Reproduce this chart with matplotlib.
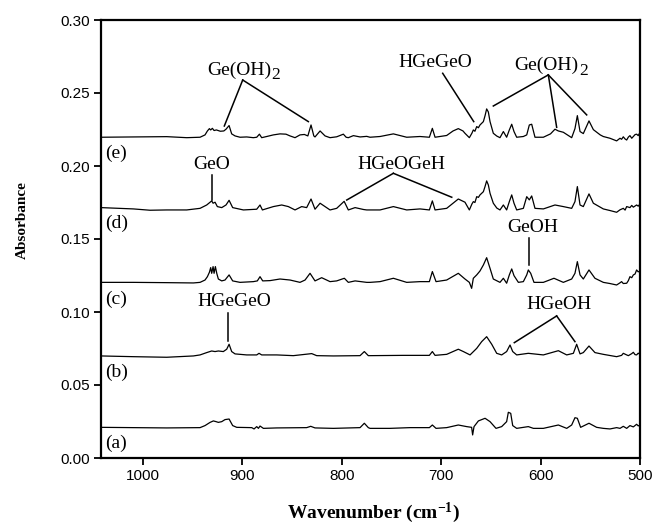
import matplotlib
matplotlib.use('Agg')
import matplotlib.pyplot as plt

plt.rcParams['font.family'] = ['Liberation Sans', 'DejaVu Sans']
plt.rcParams['mathtext.fontset'] = 'custom'
plt.rcParams['mathtext.rm'] = 'Liberation Serif'
plt.rcParams['mathtext.it'] = 'Liberation Serif:italic'
plt.rcParams['mathtext.bf'] = 'Liberation Serif:bold'

# ---------------- data (wavenumber cm-1, absorbance) ----------------
trace_e = [
    (1042.0, 0.2197), (1009.4, 0.2199), (975.9, 0.2201), (955.8, 0.2194), (942.4, 0.2197),
    (937.4, 0.2213), (935.0, 0.2240), (933.0, 0.2256), (931.7, 0.2247), (930.0, 0.2258),
    (928.3, 0.2243), (926.0, 0.2247), (922.0, 0.2238), (918.5, 0.2240), (916.3, 0.2252),
    (913.2, 0.2277), (910.6, 0.2220), (907.2, 0.2206), (902.2, 0.2197), (895.5, 0.2199),
    (888.8, 0.2194), (885.4, 0.2197), (882.7, 0.2218), (880.4, 0.2194), (875.4, 0.2202),
    (868.7, 0.2213), (862.0, 0.2220), (856.0, 0.2218), (851.9, 0.2206), (846.9, 0.2194),
    (841.9, 0.2213), (837.5, 0.2216), (834.0, 0.2206), (830.8, 0.2281), (828.0, 0.2206),
    (826.8, 0.2199), (821.7, 0.2240), (816.7, 0.2206), (811.7, 0.2194), (805.0, 0.2200),
    (798.3, 0.2218), (795.5, 0.2197), (793.3, 0.2194), (788.2, 0.2208), (781.5, 0.2199),
    (774.8, 0.2203), (771.5, 0.2197), (761.4, 0.2202), (748.0, 0.2220), (741.0, 0.2208),
    (734.6, 0.2197), (721.2, 0.2202), (711.8, 0.2197), (708.8, 0.2258), (706.1, 0.2197),
    (694.4, 0.2209), (688.0, 0.2240), (682.7, 0.2256), (678.0, 0.2240), (676.0, 0.2224),
    (671.6, 0.2194), (669.0, 0.2225), (667.6, 0.2247), (666.0, 0.2238), (664.2, 0.2270),
    (662.5, 0.2262), (660.9, 0.2281), (657.5, 0.2304), (655.8, 0.2345), (654.2, 0.2391),
    (652.5, 0.2370), (650.8, 0.2304), (647.5, 0.2224), (644.0, 0.2205), (640.8, 0.2194),
    (637.4, 0.2236), (634.1, 0.2197), (631.4, 0.2247), (629.0, 0.2286), (626.7, 0.2236),
    (624.0, 0.2197), (617.3, 0.2202), (613.9, 0.2213), (611.3, 0.2281), (608.9, 0.2286),
    (605.6, 0.2197), (597.2, 0.2197), (590.0, 0.2220), (585.5, 0.2252), (582.1, 0.2240),
    (577.1, 0.2231), (568.7, 0.2194), (565.4, 0.2256), (563.0, 0.2345), (560.3, 0.2236),
    (557.0, 0.2222), (551.3, 0.2309), (546.9, 0.2249), (540.0, 0.2213), (536.9, 0.2202),
    (530.2, 0.2190), (523.5, 0.2172), (520.1, 0.2190), (518.5, 0.2183), (516.8, 0.2200),
    (515.0, 0.2185), (513.4, 0.2178), (511.7, 0.2198), (510.1, 0.2208), (508.3, 0.2190),
    (506.7, 0.2202), (505.0, 0.2215), (503.4, 0.2218), (501.8, 0.2208), (500.7, 0.2222),
    (500.0, 0.2220),
]

trace_d = [
    (1042.0, 0.1715), (1009.4, 0.1706), (992.7, 0.1697), (975.9, 0.1699), (955.8, 0.1699),
    (942.4, 0.1710), (935.7, 0.1733), (932.3, 0.1752), (930.7, 0.1761), (929.3, 0.1745),
    (927.3, 0.1752), (925.0, 0.1722), (920.6, 0.1715), (916.3, 0.1733), (913.2, 0.1765),
    (909.6, 0.1715), (898.8, 0.1699), (885.4, 0.1704), (882.1, 0.1733), (879.7, 0.1699),
    (868.7, 0.1722), (860.3, 0.1733), (853.6, 0.1722), (846.9, 0.1699), (840.2, 0.1722),
    (835.2, 0.1715), (830.8, 0.1774), (826.8, 0.1704), (821.7, 0.1745), (811.7, 0.1699),
    (805.0, 0.1710), (797.5, 0.1758), (793.3, 0.1699), (786.5, 0.1715), (778.0, 0.1702),
    (774.8, 0.1699), (771.5, 0.1699), (761.4, 0.1699), (748.0, 0.1722), (734.6, 0.1699),
    (721.2, 0.1706), (711.8, 0.1699), (708.8, 0.1761), (706.1, 0.1699), (694.4, 0.1710),
    (682.7, 0.1774), (676.0, 0.1752), (671.6, 0.1699), (669.0, 0.1740), (667.6, 0.1756),
    (666.0, 0.1750), (664.2, 0.1790), (662.5, 0.1785), (660.9, 0.1802), (657.5, 0.1824),
    (655.8, 0.1860), (654.2, 0.1898), (652.5, 0.1870), (650.8, 0.1813), (647.5, 0.1745),
    (644.0, 0.1712), (640.8, 0.1699), (637.4, 0.1733), (634.1, 0.1699), (631.4, 0.1756),
    (629.0, 0.1802), (626.7, 0.1745), (624.0, 0.1699), (617.3, 0.1710), (613.9, 0.1790),
    (611.3, 0.1768), (608.9, 0.1795), (605.6, 0.1710), (597.2, 0.1706), (585.5, 0.1733),
    (577.1, 0.1722), (568.7, 0.1710), (565.4, 0.1756), (563.0, 0.1859), (560.3, 0.1733),
    (557.0, 0.1722), (551.3, 0.1809), (546.9, 0.1745), (536.9, 0.1706), (530.2, 0.1695),
    (523.5, 0.1683), (520.1, 0.1700), (516.8, 0.1710), (515.0, 0.1698), (513.4, 0.1722),
    (510.1, 0.1715), (508.3, 0.1730), (506.7, 0.1718), (503.4, 0.1733), (501.8, 0.1725),
    (500.0, 0.1740),
]

trace_c = [
    (1042.0, 0.1203), (1009.4, 0.1203), (975.9, 0.1201), (949.1, 0.1199), (942.4, 0.1203),
    (937.4, 0.1219), (935.0, 0.1242), (933.0, 0.1272), (931.7, 0.1304), (930.7, 0.1265),
    (929.3, 0.1311), (928.3, 0.1265), (927.0, 0.1311), (925.6, 0.1265), (924.0, 0.1226),
    (920.6, 0.1213), (917.3, 0.1219), (913.2, 0.1254), (909.6, 0.1213), (902.2, 0.1203),
    (888.8, 0.1208), (884.8, 0.1213), (882.1, 0.1242), (879.4, 0.1213), (872.0, 0.1215),
    (862.0, 0.1226), (851.9, 0.1219), (841.9, 0.1203), (836.8, 0.1219), (831.8, 0.1265),
    (826.8, 0.1213), (820.1, 0.1235), (811.7, 0.1208), (805.0, 0.1213), (797.3, 0.1231),
    (793.3, 0.1203), (786.5, 0.1213), (774.8, 0.1203), (771.5, 0.1203), (761.4, 0.1208),
    (748.0, 0.1231), (734.6, 0.1203), (721.2, 0.1208), (711.8, 0.1208), (708.8, 0.1277),
    (705.1, 0.1208), (694.4, 0.1219), (682.7, 0.1265), (676.0, 0.1226), (671.6, 0.1203),
    (669.3, 0.1162), (667.6, 0.1231), (664.2, 0.1254), (660.9, 0.1281), (657.5, 0.1322),
    (654.2, 0.1372), (650.8, 0.1299), (647.5, 0.1226), (640.8, 0.1203), (637.4, 0.1231),
    (634.1, 0.1197), (631.4, 0.1254), (629.0, 0.1295), (626.7, 0.1249), (622.3, 0.1203),
    (617.3, 0.1208), (613.9, 0.1254), (612.3, 0.1288), (609.9, 0.1265), (606.6, 0.1203),
    (597.2, 0.1203), (586.5, 0.1231), (577.1, 0.1203), (568.7, 0.1226), (565.4, 0.1265),
    (563.0, 0.1345), (560.3, 0.1254), (557.0, 0.1226), (551.3, 0.1288), (545.3, 0.1231),
    (536.9, 0.1203), (530.2, 0.1195), (523.5, 0.1185), (520.1, 0.1200), (518.5, 0.1208),
    (516.8, 0.1195), (513.4, 0.1197), (511.7, 0.1215), (510.1, 0.1242), (508.3, 0.1235),
    (506.7, 0.1254), (505.0, 0.1260), (503.4, 0.1288), (501.8, 0.1275), (500.0, 0.1281),
]

trace_b = [
    (1042.0, 0.0699), (1009.4, 0.0694), (975.9, 0.0690), (949.1, 0.0699), (942.4, 0.0706),
    (935.7, 0.0722), (930.7, 0.0733), (927.3, 0.0729), (924.0, 0.0733), (919.0, 0.0729),
    (915.6, 0.0745), (913.2, 0.0779), (910.6, 0.0729), (907.2, 0.0713), (895.5, 0.0706),
    (885.4, 0.0706), (883.1, 0.0717), (880.4, 0.0706), (865.3, 0.0706), (848.6, 0.0701),
    (830.1, 0.0715), (825.1, 0.0701), (808.3, 0.0699), (781.5, 0.0701), (777.2, 0.0729),
    (773.2, 0.0701), (771.5, 0.0701), (738.0, 0.0703), (711.8, 0.0703), (708.8, 0.0729),
    (706.1, 0.0703), (694.4, 0.0710), (682.7, 0.0745), (677.6, 0.0729), (670.9, 0.0706),
    (664.2, 0.0751), (659.2, 0.0797), (654.2, 0.0831), (649.1, 0.0779), (644.1, 0.0717),
    (639.1, 0.0706), (634.1, 0.0729), (630.7, 0.0774), (628.0, 0.0729), (624.0, 0.0706),
    (612.3, 0.0717), (597.2, 0.0706), (582.1, 0.0735), (573.7, 0.0706), (567.0, 0.0717),
    (563.7, 0.0779), (560.3, 0.0713), (557.0, 0.0722), (551.3, 0.0767), (545.3, 0.0722),
    (536.9, 0.0710), (523.5, 0.0694), (518.5, 0.0703), (516.8, 0.0717), (513.4, 0.0706),
    (511.7, 0.0701), (508.3, 0.0715), (506.7, 0.0724), (505.0, 0.0708), (503.4, 0.0706),
    (501.8, 0.0718), (500.0, 0.0710),
]

trace_a = [
    (1042.0, 0.0210), (1009.4, 0.0208), (975.9, 0.0206), (942.4, 0.0208), (937.4, 0.0222),
    (932.3, 0.0244), (929.0, 0.0254), (926.3, 0.0249), (924.0, 0.0244), (920.6, 0.0249),
    (917.3, 0.0263), (913.2, 0.0267), (909.6, 0.0222), (905.5, 0.0210), (890.4, 0.0208),
    (888.1, 0.0199), (885.4, 0.0215), (883.7, 0.0203), (882.1, 0.0219), (878.7, 0.0203),
    (865.3, 0.0206), (835.2, 0.0208), (831.1, 0.0217), (826.8, 0.0206), (808.3, 0.0203),
    (781.5, 0.0208), (777.2, 0.0238), (773.2, 0.0208), (771.5, 0.0203), (751.4, 0.0203),
    (731.3, 0.0208), (711.8, 0.0208), (708.8, 0.0226), (705.1, 0.0203), (694.4, 0.0208),
    (682.7, 0.0226), (674.3, 0.0215), (669.3, 0.0210), (668.3, 0.0158), (666.9, 0.0215),
    (662.5, 0.0254), (655.8, 0.0272), (650.8, 0.0249), (644.8, 0.0203), (639.1, 0.0215),
    (634.1, 0.0249), (632.4, 0.0313), (630.0, 0.0306), (628.0, 0.0222), (624.0, 0.0203),
    (612.3, 0.0215), (607.2, 0.0203), (597.2, 0.0203), (582.1, 0.0226), (573.7, 0.0203),
    (568.7, 0.0226), (565.4, 0.0276), (563.0, 0.0272), (559.7, 0.0210), (551.3, 0.0238),
    (543.6, 0.0210), (536.9, 0.0203), (530.2, 0.0199), (523.5, 0.0208), (520.1, 0.0203),
    (516.8, 0.0217), (513.4, 0.0203), (510.1, 0.0222), (506.7, 0.0213), (503.4, 0.0231),
    (501.8, 0.0220), (500.0, 0.0226),
]

traces = [trace_a, trace_b, trace_c, trace_d, trace_e]
trace_labels = ["(a)", "(b)", "(c)", "(d)", "(e)"]
trace_label_y = [0.010, 0.059, 0.109, 0.161, 0.209]
trace_label_x = 1037.5

x_ticks = [1000, 900, 800, 700, 600, 500]
y_ticks = [0.00, 0.05, 0.10, 0.15, 0.20, 0.25, 0.30]

# annotations: main text, subscript, text anchor (wn, abs), apex of lines, line targets
ann_texts = ["Ge(OH)", "GeO", "HGeOGeH", "HGeGeO", "Ge(OH)", "GeOH", "HGeGeO", "HGeOH"]
ann_subs = ["2", None, None, None, "2", None, None, None]
ann_text_pos = [(871.0, 0.2658), (930.6, 0.2007), (740.3, 0.2007), (706.1, 0.2706),
                (562.1, 0.2692), (607.6, 0.1580), (908.2, 0.1071), (581.5, 0.1048)]
ann_apex = [(899.5, 0.2589), (930.0, 0.1939), (748.0, 0.1950), (698.4, 0.2635),
            (592.2, 0.2624), (611.3, 0.1508), (913.9, 0.0991), (583.8, 0.0973)]
ann_targets = [
    [(918.0, 0.2274), (833.5, 0.2304)],
    [(930.0, 0.1767)],
    [(794.9, 0.1767), (689.3, 0.1786)],
    [(667.2, 0.2304)],
    [(647.5, 0.2411), (583.8, 0.2265), (553.6, 0.2350)],
    [(611.3, 0.1322)],
    [(913.9, 0.0804)],
    [(626.4, 0.0790), (565.4, 0.0797)],
]

# ---------------- figure ----------------
W, H = 653, 529
fig = plt.figure(figsize=(W / 100, H / 100), dpi=100)
ax = fig.add_axes([101 / W, 1 - 458 / H, (640 - 101) / W, (458 - 20) / H])

for pts in traces:
    wn, ab = zip(*pts)
    ax.plot(wn, ab, color='black', lw=0.9)

serif = ['Liberation Serif', 'DejaVu Serif']
for lab, yy in zip(trace_labels, trace_label_y):
    ax.text(trace_label_x, yy, lab, ha='left', va='center', fontsize=14, family=serif)

for txt, sub, tp, apex, tg in zip(ann_texts, ann_subs, ann_text_pos, ann_apex, ann_targets):
    if sub is None:
        ax.text(tp[0], tp[1], txt, ha='center', va='center', fontsize=14, family=serif)
    else:
        ax.text(tp[0], tp[1], txt, ha='right', va='center', fontsize=14, family=serif)
        ax.annotate(sub, xy=tp, xytext=(0.4, -4), textcoords='offset points',
                    ha='left', va='center', fontsize=12.5, family=serif)
    for t in tg:
        ax.plot([apex[0], t[0]], [apex[1], t[1]], color='black', lw=1.1)

ax.set_xlim(1042, 500)
ax.set_ylim(0, 0.30)
ax.set_xticks(x_ticks)
ax.set_yticks(y_ticks)
ax.set_xticklabels([str(v) for v in x_ticks])
ax.set_yticklabels(["%.2f" % v for v in y_ticks])
ax.tick_params(direction='out', length=5, width=1.3, labelsize=11, pad=3)
for side in ['left', 'bottom', 'right', 'top']:
    ax.spines[side].set_linewidth(1.6)

fig.text(22.7 / W, 1 - 220 / H, 'Absorbance', rotation=90, ha='center', va='center',
         fontsize=11, fontweight='bold', family=serif)
fig.text(373.7 / W, 1 - 513 / H, 'Wavenumber (cm$^{\\mathregular{-1}}$)', ha='center',
         va='center', fontsize=14, fontweight='bold', family=serif)

fig.savefig('out.png', dpi=100)
